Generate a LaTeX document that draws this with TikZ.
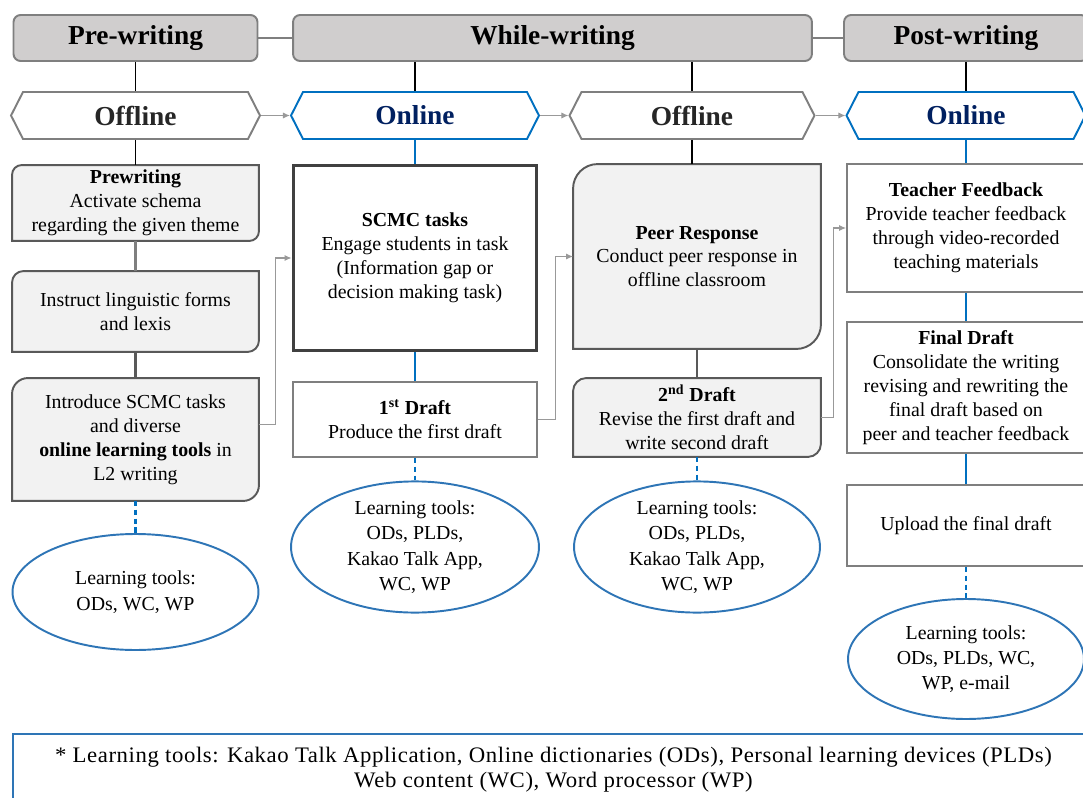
\documentclass[tikz,border=0pt]{standalone}
\usepackage{fontspec}
\setmainfont{Liberation Serif}
\usepackage{graphicx}
\usetikzlibrary{shapes.geometric,shapes.symbols,arrows.meta,backgrounds}

\definecolor{hdrfill}{HTML}{D0CECE}
\definecolor{hdrline}{HTML}{7F7F7F}
\definecolor{boxfill}{HTML}{F2F2F2}
\definecolor{boxline}{HTML}{595959}
\definecolor{onblue}{HTML}{0070C0}
\definecolor{onnavy}{HTML}{002060}
\definecolor{toolblue}{HTML}{2E75B6}

\tikzset{
  phase/.style={draw=hdrline, fill=hdrfill, line width=1.1pt, rounded corners=4pt,
    minimum height=0.92cm, font=\fontsize{15.6}{18}\selectfont\bfseries},
  modeoff/.style={signal, signal to=east and west, signal pointer angle=126,
    draw=hdrline, fill=white, line width=1.1pt, minimum height=0.94cm, inner sep=0pt,
    text=black!85, font=\fontsize{15.6}{18}\selectfont\bfseries},
  modeon/.style={modeoff, draw=onblue, text=onnavy},
  task/.style={draw=hdrline, line width=1.1pt, align=center, inner sep=0pt,
    font=\fontsize{11.3}{13.6}\selectfont},
  shaded/.style={task, draw=none},
  tools/.style={ellipse, draw=toolblue, line width=1.1pt, align=center, inner sep=0pt,
    font=\fontsize{11.3}{14.4}\selectfont},
  down/.style={line width=0.8pt},
  onlink/.style={draw=onblue, line width=1.7pt},
  toollink/.style={draw=onblue, line width=1.2pt, dash pattern=on 3pt off 2pt},
  arr/.style={draw=hdrline!80, line width=0.6pt, -{Latex[length=4pt,width=3.5pt]}}
}

\begin{document}
\begin{tikzpicture}[x=0.02cm, y=0.02cm]
 \useasboundingbox (0,-798) rectangle (1083,0);

 % phases
 \node[phase, minimum width=4.88cm] (hpre) at (135.5,-38) {Pre-writing};
 \node[phase, minimum width=10.38cm] (hwhile) at (552.5,-38) {While-writing};
 \node[phase, minimum width=4.88cm] (hpost) at (966,-38) {Post-writing};
 \draw[hdrline, line width=1.4pt] (hpre.east) -- (hwhile.west);
 \draw[hdrline, line width=1.4pt] (hwhile.east) -- (hpost.west);

 % offline / online
 \node[modeoff, minimum width=4.98cm] (off1) at (135.5,-115.5) {Offline};
 \node[modeon, minimum width=4.96cm] (on1) at (415,-115.5) {Online};
 \node[modeoff, minimum width=4.9cm] (off2) at (692,-115.5) {Offline};
 \node[modeon, minimum width=4.78cm] (on2) at (966,-115.5) {Online};
 \draw[down] (hpre.south) -- (off1.north);
 \draw[down] (on1.north |- hwhile.south) -- (on1.north);
 \draw[down] (off2.north |- hwhile.south) -- (off2.north);
 \draw[down] (hpost.south) -- (on2.north);
 \draw[arr] (off1.east) -- (on1.west);
 \draw[arr] (on1.east) -- (off2.west);
 \draw[arr] (off2.east) -- (on2.west);

 % pre-writing
 \node[shaded, minimum width=4.9cm, minimum height=1.48cm] (pre) at (135.5,-203)
   {\textbf{Prewriting}\\Activate schema\\regarding the given theme};
 \node[shaded, minimum width=4.9cm, minimum height=1.58cm] (ins) at (135.5,-311.5)
   {Instruct linguistic forms\\and lexis};
 \node[shaded, minimum width=4.9cm, minimum height=2.42cm] (intro) at (135.5,-439.5)
   {Introduce SCMC tasks\\and diverse\\\textbf{online learning tools} in\\L2 writing};
 \node[tools, minimum width=4.92cm, minimum height=2.32cm] (ell1) at (135.5,-592)
   {Learning tools:\\ODs, WC, WP};

 % while-writing, online
 \node[task, draw=black!75, line width=1.7pt, minimum width=4.88cm, minimum height=3.72cm] (scmc) at (415,-258)
   {\textbf{SCMC tasks}\\Engage students in task\\(Information gap or\\decision making task)};
 \node[task, minimum width=4.88cm, minimum height=1.5cm] (d1) at (415,-419.5)
   {\textbf{1\textsuperscript{st} Draft}\\Produce the first draft};
 \node[tools, minimum width=4.96cm, minimum height=2.44cm] (ell2) at (415,-547)
   {Learning tools:\\ODs, PLDs,\\Kakao Talk App,\\WC, WP};

 % while-writing, offline
 \node[shaded, minimum width=4.92cm, minimum height=3.66cm] (peer) at (697,-256.5)
   {\textbf{Peer Response}\\Conduct peer response in\\offline classroom};
 \node[shaded, minimum width=4.92cm, minimum height=1.54cm] (d2) at (697,-417.5)
   {\textbf{2\textsuperscript{nd} Draft}\\Revise the first draft and\\write second draft};
 \node[tools, minimum width=4.92cm, minimum height=2.44cm] (ell3) at (697,-547)
   {Learning tools:\\ODs, PLDs,\\Kakao Talk App,\\WC, WP};

 % post-writing
 \node[task, minimum width=4.76cm, minimum height=2.56cm] (teach) at (966,-228)
   {\textbf{Teacher Feedback}\\Provide teacher feedback\\through video-recorded\\teaching materials};
 \node[task, minimum width=4.76cm, minimum height=2.62cm] (fin) at (966,-387.5)
   {\textbf{Final Draft}\\Consolidate the writing\\revising and rewriting the\\final draft based on\\peer and teacher feedback};
 \node[task, minimum width=4.76cm, minimum height=1.62cm] (upl) at (966,-525.5)
   {Upload the final draft};
 \node[tools, minimum width=4.72cm, minimum height=2.4cm] (ell4) at (966,-659)
   {Learning tools:\\ODs, PLDs, WC,\\WP, e-mail};

 % boxes with two rounded corners
 \begin{scope}[on background layer]
  \foreach \b/\r in {pre/5.5pt, ins/6.5pt, intro/9pt, peer/14pt, d2/7.5pt}
   \filldraw[fill=boxfill, draw=boxline, line width=1.1pt]
     (\b.south west) -- ([yshift=-\r]\b.north west) arc[start angle=180, end angle=90, radius=\r]
     -- (\b.north east) -- ([yshift=\r]\b.south east) arc[start angle=0, end angle=-90, radius=\r]
     -- cycle;
 \end{scope}

 % links
 \draw[down] (off1.south) -- (pre.north);
 \draw[hdrline, line width=1.4pt] (pre.south) -- (ins.north);
 \draw[boxline, line width=1.7pt] (ins.south) -- (intro.north);
 \draw[toollink] (intro.south) -- (ell1.north);
 \draw[onblue, line width=1.1pt] (on1.south) -- (scmc.north);
 \draw[onlink] (scmc.south) -- (d1.north);
 \draw[toollink] (d1.south) -- (ell2.north);
 \draw[down] (off2.south) -- (off2.south |- peer.north);
 \draw[boxline, line width=1.7pt] (peer.south) -- (d2.north);
 \draw[toollink] (d2.south) -- (ell3.north);
 \draw[onblue, line width=1.1pt] (on2.south) -- (teach.north);
 \draw[onlink] (teach.south) -- (fin.north);
 \draw[onlink] (fin.south) -- (upl.north);
 \draw[toollink] (upl.south) -- (ell4.north);

 \draw[arr] ([yshift=0.3cm]intro.east) -- ++(17,0) |- (scmc.west);
 \draw[arr] (d1.east) -- ++(18,0) |- (peer.west);
 \draw[arr] (d2.east) -- ++(13,0) |- (teach.west);

 % legend
 \node[draw=toolblue, line width=1.1pt, minimum width=21.62cm, minimum height=1.44cm,
   font=\fontsize{12.6}{14.2}\selectfont\addfontfeatures{LetterSpace=2.5}] (legend) at (553.5,-770)
   {\resizebox{19.94cm}{\height}{\begin{tabular}{@{}c@{}}* Learning tools: Kakao Talk Application, Online dictionaries (ODs), Personal learning devices (PLDs)\\Web content (WC), Word processor (WP)\end{tabular}}};
\end{tikzpicture}
\end{document}
